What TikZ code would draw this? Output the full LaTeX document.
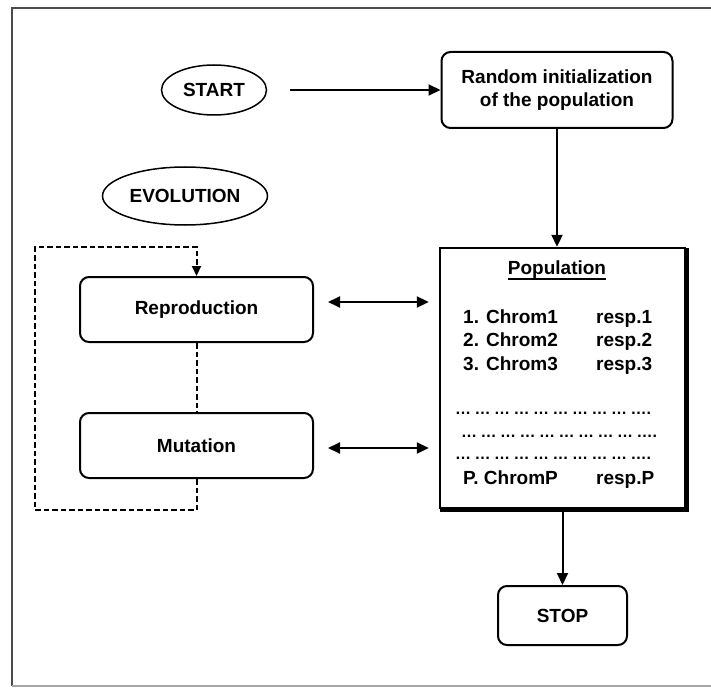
\documentclass[tikz,border=0pt]{standalone}
\usepackage{fontspec}
\setmainfont{Liberation Sans}
\usetikzlibrary{shapes.geometric,arrows.meta,calc}
\newcommand{\dotgroup}{{\fontsize{16}{16}\selectfont …}\hspace{3.5pt}}
\newcommand{\dotrow}{\dotgroup\dotgroup\dotgroup\dotgroup\dotgroup\dotgroup\dotgroup\dotgroup\dotgroup{\fontsize{16}{16}\selectfont ….}}
\begin{document}
\begin{tikzpicture}[x=1pt,y=-1pt,
  every node/.style={font=\bfseries\fontsize{19}{23}\selectfont},
  ovalbox/.style={ellipse,draw,line width=1.5pt,inner sep=0pt},
  roundbox/.style={rectangle,draw,rounded corners=9pt,line width=2pt,align=center,inner sep=0pt},
  arr/.style={line width=2pt,-{Triangle[length=12pt,width=11pt]}},
  dbl/.style={line width=2pt,{Triangle[length=12pt,width=11pt]}-{Triangle[length=12pt,width=11pt]}},
  loopline/.style={line width=2pt,dash pattern=on 5.5pt off 3pt},
  cell/.style={anchor=base west,inner sep=0pt},
]
\useasboundingbox (0,0) rectangle (711,687);
% page frame
\draw[line width=2.2pt,color=black!70] (12,686) -- (12,8) -- (711,8);
\draw[line width=1.5pt,color=black!35] (12,686) -- (711,686);

% flowchart blocks
\node[ovalbox,minimum width=105pt,minimum height=50pt] (start) at (214,90) {START};
\node[ovalbox,minimum width=165pt,minimum height=58pt] (evol) at (185,196) {EVOLUTION};
\node[roundbox,minimum width=231pt,minimum height=76pt] (rand) at (557,90) {Random initialization\\of the population};
\node[roundbox,minimum width=233pt,minimum height=65pt] (repro) at (196.5,309.5) {Reproduction};
\node[roundbox,minimum width=233pt,minimum height=65pt] (mut) at (196.5,445.5) {Mutation};
\node[draw,line width=2.4pt,minimum width=245pt,minimum height=260pt,inner sep=0pt] (pop) at (562.5,378) {};
\draw[line width=2.4pt] ([xshift=1.4pt,yshift=-1pt]pop.north east) -- ([xshift=1.4pt,yshift=-1.4pt]pop.south east) -- ([xshift=1pt,yshift=-1.4pt]pop.south west);
\node[roundbox,minimum width=129pt,minimum height=59pt] (stop) at (562.5,615.5) {STOP};

% population listing
\node[anchor=base,inner sep=0pt] (ptitle) at (557,274) {Population};
\draw[line width=2pt] ([yshift=-4.5pt]ptitle.base west) -- ([yshift=-4.5pt]ptitle.base east);
\node[cell] (c1) at (463,323) {1. Chrom1};
\node[cell] (r1) at (596,323) {resp.1};
\node[cell] (c2) at (463,346) {2. Chrom2};
\node[cell] (r2) at (596,346) {resp.2};
\node[cell] (c3) at (463,370) {3. Chrom3};
\node[cell] (r3) at (596,370) {resp.3};
\node[cell] (d1) at (455,414) {\dotrow};
\node[cell] (d2) at (461,437) {\dotrow};
\node[cell] (d3) at (455,459) {\dotrow};
\node[cell] (cp) at (463,484) {P. ChromP};
\node[cell] (rp) at (596,484) {resp.P};

% connectors
\draw[arr,shorten <=23pt] (start) -- (rand);
\draw[arr] (rand.south) -- (rand.south |- pop.north);
\draw[arr] (pop.south) -- (stop.north);
\draw[dbl,shorten <=14pt,shorten >=10pt] ([yshift=7.5pt]repro.east) -- ([yshift=7.5pt]repro.east -| pop.west);
\draw[dbl,shorten <=14pt,shorten >=10pt] ([yshift=-2.5pt]mut.east) -- ([yshift=-2.5pt]mut.east -| pop.west);

% evolution loop
\coordinate (lt) at (35,247);
\coordinate (lb) at (35,510);
\draw[loopline] (repro.south) -- (mut.north);
\draw[loopline,-{Triangle[length=10pt,width=9pt]}] (mut.south) |- (lb) -- (lt) -| (repro.north);
\end{tikzpicture}
\end{document}
